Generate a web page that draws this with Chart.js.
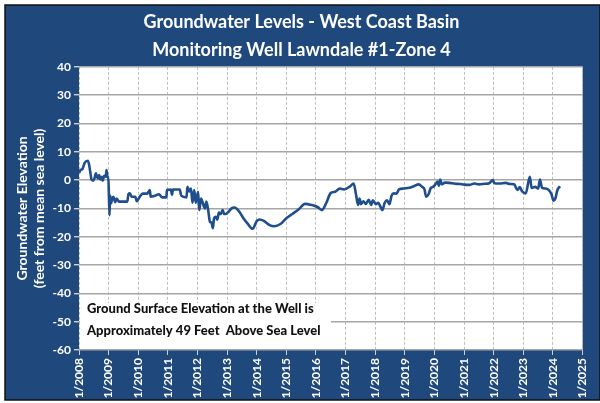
<!DOCTYPE html>
<html>
<head>
<meta charset="utf-8">
<title>Groundwater Levels - West Coast Basin</title>
<script src="https://cdn.jsdelivr.net/npm/chart.js@4.4.1/dist/chart.umd.min.js"></script>
<style>
  html, body { margin: 0; padding: 0; background: #fff; }
  #wrap { width: 600px; height: 403px; position: relative; }
</style>
</head>
<body>
<div id="wrap"><canvas id="wellChart"></canvas></div>
<script>
// Measurement dates (decimal years) and water level (ft from mean sea level)
const dates = [
  2008.00, 2008.05, 2008.12, 2008.19, 2008.30, 2008.34, 2008.37, 2008.40, 2008.42, 2008.48,
  2008.52, 2008.57, 2008.60, 2008.64, 2008.68, 2008.72, 2008.76, 2008.80, 2008.85, 2008.90,
  2008.93, 2008.96, 2008.99, 2009.01, 2009.03, 2009.05, 2009.08, 2009.12, 2009.16, 2009.22,
  2009.27, 2009.35, 2009.50, 2009.63, 2009.67, 2009.72, 2009.78, 2009.90, 2009.95, 2010.05,
  2010.15, 2010.30, 2010.39, 2010.42, 2010.55, 2010.70, 2010.80, 2010.95, 2010.97, 2011.10,
  2011.14, 2011.17, 2011.40, 2011.45, 2011.63, 2011.66, 2011.72, 2011.78, 2011.83, 2011.89,
  2011.94, 2012.02, 2012.06, 2012.12, 2012.20, 2012.25, 2012.30, 2012.36, 2012.42, 2012.47,
  2012.52, 2012.56, 2012.62, 2012.67, 2012.72, 2012.78, 2012.85, 2012.90, 2012.95, 2013.05,
  2013.15, 2013.25, 2013.40, 2013.55, 2013.70, 2013.86, 2014.00, 2014.10, 2014.25, 2014.45,
  2014.60, 2014.80, 2015.00, 2015.20, 2015.40, 2015.63, 2015.85, 2016.05, 2016.20, 2016.35,
  2016.50, 2016.65, 2016.80, 2016.95, 2017.15, 2017.27, 2017.35, 2017.42, 2017.47, 2017.52,
  2017.60, 2017.68, 2017.78, 2017.86, 2017.92, 2018.02, 2018.10, 2018.18, 2018.24, 2018.32,
  2018.40, 2018.48, 2018.55, 2018.63, 2018.72, 2018.80, 2018.95, 2019.10, 2019.19, 2019.30,
  2019.47, 2019.58, 2019.66, 2019.72, 2019.80, 2019.87, 2019.95, 2020.02, 2020.10, 2020.15,
  2020.19, 2020.25, 2020.35, 2020.50, 2020.70, 2020.86, 2021.00, 2021.19, 2021.35, 2021.50,
  2021.70, 2021.85, 2021.97, 2022.02, 2022.20, 2022.40, 2022.55, 2022.69, 2022.80, 2022.88,
  2022.96, 2023.08, 2023.22, 2023.28, 2023.40, 2023.50, 2023.56, 2023.63, 2023.75, 2023.87,
  2023.95, 2024.02, 2024.08, 2024.15, 2024.24
];
const levels = [
  2.5, 3.5, 4.0, 6.1, 6.8, 5.5, 3.5, 1.5, 0.2, -0.2,
  0.5, 2.4, 1.5, 0.5, 1.8, 0.2, 1.2, -0.2, 1.5, 1.2,
  3.5, 1.0, 1.2, -5.9, -12.4, -5.5, -8.2, -6.5, -5.9, -7.8,
  -6.5, -7.6, -7.6, -7.6, -5.0, -4.7, -5.9, -5.9, -7.5, -5.9,
  -4.8, -4.8, -3.5, -5.9, -5.6, -5.0, -6.1, -6.1, -3.5, -3.3,
  -5.2, -3.3, -3.3, -5.5, -6.1, -2.4, -4.0, -3.0, -8.0, -3.5,
  -8.0, -4.1, -10.6, -6.5, -8.8, -10.0, -7.6, -10.6, -14.7, -15.0,
  -17.0, -13.5, -13.0, -14.0, -11.5, -12.0, -10.6, -12.0, -12.0, -11.2,
  -10.0, -9.7, -11.0, -13.5, -15.5, -17.2, -14.5, -13.9, -14.5, -16.0,
  -16.3, -15.5, -13.5, -12.0, -10.5, -8.4, -8.8, -9.5, -10.6, -8.0,
  -4.5, -4.1, -3.0, -3.3, -2.2, -1.2, -5.0, -8.8, -6.5, -8.5,
  -7.5, -8.4, -7.0, -8.8, -7.1, -8.5, -8.0, -9.5, -10.6, -8.0,
  -7.1, -8.5, -5.5, -4.7, -4.8, -3.3, -3.0, -2.8, -2.6, -2.2,
  -1.5, -2.4, -3.2, -5.9, -5.0, -2.9, -2.4, -1.7, -0.5, -2.0,
  0.2, -1.5, -0.9, -1.0, -1.3, -1.4, -1.6, -1.7, -1.2, -1.5,
  -1.3, -1.1, 0.0, -1.1, -1.2, -1.0, -1.4, -1.5, -3.5, -2.5,
  -4.0, -4.7, 1.2, -2.8, -2.4, -3.0, 0.2, -2.7, -3.0, -3.6,
  -5.0, -7.3, -6.5, -3.5, -2.2
];

const yTicks = [40, 30, 20, 10, 0, -10, -20, -30, -40, -50, -60];
const titleLines = ['Groundwater Levels - West Coast Basin', 'Monitoring Well Lawndale #1-Zone 4'];
const yTitleLines = ['Groundwater Elevation', '(feet from mean sea level)'];
const noteLines = ['Ground Surface Elevation at the Well is', 'Approximately 49 Feet  Above Sea Level'];

const PANEL = '#1f497d';
const LINE = '#1f4e8c';
const FONT = 'Lato, "Open Sans", sans-serif';

// Outer frame, blue panel and white plot area
const panelBg = {
  id: 'panelBg',
  beforeDraw(chart) {
    const { ctx, chartArea: a } = chart;
    ctx.save();
    ctx.fillStyle = '#fff';
    ctx.fillRect(0, 0, chart.width, chart.height);
    ctx.fillStyle = PANEL;
    ctx.fillRect(5, 5, chart.width - 5, chart.height - 8);
    ctx.strokeStyle = '#111';
    ctx.lineWidth = 1.5;
    ctx.strokeRect(5, 5, chart.width - 5, chart.height - 8);
    ctx.fillStyle = '#fff';
    ctx.fillRect(a.left, a.top, a.right - a.left, a.bottom - a.top);
    ctx.restore();
  }
};

// Note box in the lower left corner of the plot
const noteBox = {
  id: 'noteBox',
  beforeDatasetsDraw(chart) {
    const { ctx, chartArea: a } = chart;
    ctx.save();
    ctx.fillStyle = '#fff';
    ctx.fillRect(a.left + 1, 303, 251, a.bottom - 304);
    ctx.fillStyle = '#111';
    ctx.font = '900 13px ' + FONT;
    ctx.textBaseline = 'middle';
    ctx.fillText(noteLines[0], a.left + 8, 309);
    ctx.fillText(noteLines[1], a.left + 8, 331);
    ctx.restore();
  }
};

const ctx = document.getElementById('wellChart').getContext('2d');
new Chart(ctx, {
  type: 'line',
  data: {
    datasets: [{
      data: dates.map((d, i) => ({ x: d, y: levels[i] })),
      borderColor: LINE,
      borderWidth: 2.6,
      pointRadius: 0,
      cubicInterpolationMode: 'monotone',
      fill: false
    }]
  },
  options: {
    responsive: true,
    maintainAspectRatio: false,
    animation: false,
    layout: { padding: { left: 14, right: 11, top: 0, bottom: 0 } },
    plugins: {
      legend: { display: false },
      tooltip: { enabled: false },
      title: {
        display: true,
        text: titleLines,
        color: '#fff',
        font: { family: FONT, size: 18, weight: 'bold', lineHeight: 1.55 },
        padding: { top: 8, bottom: 3 }
      }
    },
    scales: {
      x: {
        type: 'linear',
        min: 2008,
        max: 2025,
        afterFit: s => { s.height = 53; },
        ticks: {
          stepSize: 1,
          minRotation: 90,
          maxRotation: 90,
          color: '#fff',
          font: { family: FONT, size: 12, weight: 'bold' },
          callback: v => '1/' + v
        },
        grid: {
          color: '#bdbdbd',
          tickColor: '#d0d0d0',
          tickLength: 5
        },
        border: { display: false, dash: [3, 2] }
      },
      y: {
        min: -60,
        max: 40,
        afterFit: s => { s.width = 65; },
        afterBuildTicks: s => { s.ticks = yTicks.map(v => ({ value: v })); },
        ticks: {
          color: '#fff',
          font: { family: FONT, size: 12, weight: 'bold' }
        },
        title: {
          display: true,
          text: yTitleLines,
          color: '#fff',
          font: { family: FONT, size: 14, weight: 'bold', lineHeight: 1.2 },
          padding: 0
        },
        grid: {
          color: '#a6a6a6',
          lineWidth: 1.4,
          tickColor: '#d0d0d0',
          tickLength: 5
        },
        border: { display: false }
      }
    }
  },
  plugins: [panelBg, noteBox]
});
</script>
</body>
</html>
